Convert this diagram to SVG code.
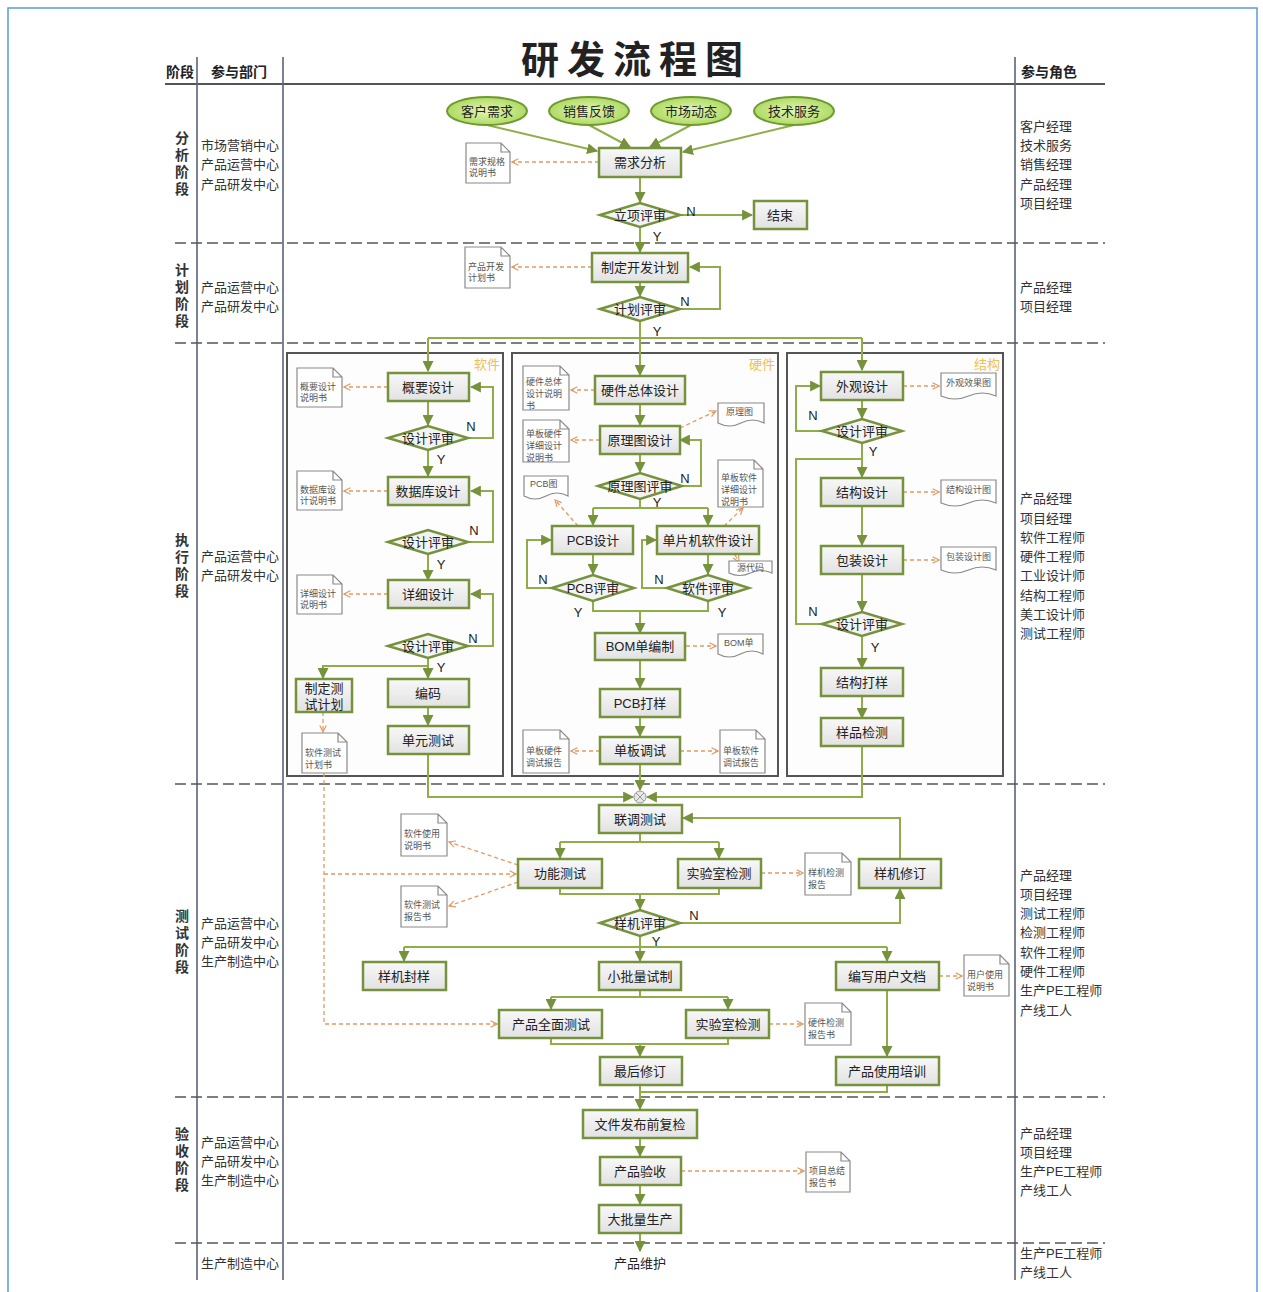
<svg xmlns="http://www.w3.org/2000/svg" width="1263" height="1292" viewBox="0 0 1263 1292">
<defs>
<linearGradient id="gBox" x1="0" y1="0" x2="0" y2="1"><stop offset="0" stop-color="#f8f8f8"/><stop offset="1" stop-color="#e2e2e2"/></linearGradient>
<radialGradient id="gEll" cx="0.5" cy="0.5" r="0.6"><stop offset="0" stop-color="#e4f6b4"/><stop offset="1" stop-color="#a5d556"/></radialGradient>
<marker id="ag" viewBox="0 0 10 10" refX="9" refY="5" markerWidth="11" markerHeight="11" markerUnits="userSpaceOnUse" orient="auto"><path d="M0,0 L10,5 L0,10 z" fill="#76923c"/></marker>
<marker id="ao" viewBox="0 0 10 10" refX="9" refY="5" markerWidth="8" markerHeight="8" markerUnits="userSpaceOnUse" orient="auto"><path d="M1,1 L9,5 L1,9" fill="none" stroke="#e29a62" stroke-width="1.5"/></marker>
<style>
text{font-family:"Liberation Sans","Noto Sans CJK SC",sans-serif;}
.box{fill:url(#gBox);stroke:#76923c;stroke-width:2.5}
.dia{fill:#f3f3f3;stroke:#76923c;stroke-width:2.5}
.ell{fill:url(#gEll);stroke:#6e9a2e;stroke-width:2}
.doc{fill:#fff;stroke:#8a8a8a;stroke-width:1.2}
.frame{fill:#fdfdfd;stroke:#555;stroke-width:2}
.c{fill:none;stroke:#8fad4a;stroke-width:2}
.ca{fill:none;stroke:#8fad4a;stroke-width:2;marker-end:url(#ag)}
.d{fill:none;stroke:#e29a62;stroke-width:1.3;stroke-dasharray:4 3;marker-end:url(#ao)}
.dn{fill:none;stroke:#e29a62;stroke-width:1.3;stroke-dasharray:4 3}
.sep{stroke:#555;stroke-width:1.6;stroke-dasharray:11 5}
.vl{stroke:#5a6478;stroke-width:1.6}
.t{font-size:13px;fill:#222;text-anchor:middle;dominant-baseline:central}
.ts{font-size:9px;fill:#555}
.yn{font-size:13px;fill:#222;text-anchor:middle;dominant-baseline:central}
.dep{font-size:13px;fill:#333}
.stg{font-size:14px;font-weight:bold;fill:#333;text-anchor:middle}
.hd{font-size:14px;font-weight:bold;fill:#222}
.fl{font-size:13px;fill:#f0c050;text-anchor:end}
</style>
</defs>
<rect x="0" y="0" width="1263" height="1292" fill="#fff"/>
<rect x="8" y="8" width="1249" height="1300" fill="none" stroke="#5b9bd5" stroke-width="1.5"/>

<g id="layout">
<text x="636" y="73" font-size="38" font-weight="bold" fill="#222" text-anchor="middle" letter-spacing="8">研发流程图</text>
<text class="hd" x="166" y="77">阶段</text>
<text class="hd" x="211" y="77">参与部门</text>
<text class="hd" x="1021" y="77">参与角色</text>
<line x1="165" y1="84" x2="1105" y2="84" stroke="#555" stroke-width="2"/>
<line class="vl" x1="197" y1="57" x2="197" y2="1280"/>
<line class="vl" x1="283" y1="57" x2="283" y2="1280"/>
<line class="vl" x1="1015" y1="57" x2="1015" y2="1280"/>
<line class="sep" x1="175" y1="243" x2="1105" y2="243"/>
<line class="sep" x1="175" y1="343" x2="1105" y2="343"/>
<line class="sep" x1="175" y1="784" x2="1105" y2="784"/>
<line class="sep" x1="175" y1="1097" x2="1105" y2="1097"/>
<line class="sep" x1="175" y1="1243" x2="1105" y2="1243"/>

<text class="stg" x="182" y="143"><tspan x="182">分</tspan><tspan x="182" dy="17">析</tspan><tspan x="182" dy="17">阶</tspan><tspan x="182" dy="17">段</tspan></text>
<text class="stg" x="182" y="275"><tspan x="182">计</tspan><tspan x="182" dy="17">划</tspan><tspan x="182" dy="17">阶</tspan><tspan x="182" dy="17">段</tspan></text>
<text class="stg" x="182" y="545"><tspan x="182">执</tspan><tspan x="182" dy="17">行</tspan><tspan x="182" dy="17">阶</tspan><tspan x="182" dy="17">段</tspan></text>
<text class="stg" x="182" y="921"><tspan x="182">测</tspan><tspan x="182" dy="17">试</tspan><tspan x="182" dy="17">阶</tspan><tspan x="182" dy="17">段</tspan></text>
<text class="stg" x="182" y="1139"><tspan x="182">验</tspan><tspan x="182" dy="17">收</tspan><tspan x="182" dy="17">阶</tspan><tspan x="182" dy="17">段</tspan></text>

<text class="dep" x="201" y="150">市场营销中心</text>
<text class="dep" x="201" y="169">产品运营中心</text>
<text class="dep" x="201" y="189">产品研发中心</text>
<text class="dep" x="201" y="292">产品运营中心</text>
<text class="dep" x="201" y="311">产品研发中心</text>
<text class="dep" x="201" y="561">产品运营中心</text>
<text class="dep" x="201" y="580">产品研发中心</text>
<text class="dep" x="201" y="928">产品运营中心</text>
<text class="dep" x="201" y="947">产品研发中心</text>
<text class="dep" x="201" y="966">生产制造中心</text>
<text class="dep" x="201" y="1147">产品运营中心</text>
<text class="dep" x="201" y="1166">产品研发中心</text>
<text class="dep" x="201" y="1185">生产制造中心</text>
<text class="dep" x="201" y="1268">生产制造中心</text>

<text class="dep" x="1020" y="131">客户经理</text>
<text class="dep" x="1020" y="150">技术服务</text>
<text class="dep" x="1020" y="169">销售经理</text>
<text class="dep" x="1020" y="189">产品经理</text>
<text class="dep" x="1020" y="208">项目经理</text>
<text class="dep" x="1020" y="292">产品经理</text>
<text class="dep" x="1020" y="311">项目经理</text>
<text class="dep" x="1020" y="503">产品经理</text>
<text class="dep" x="1020" y="523">项目经理</text>
<text class="dep" x="1020" y="542">软件工程师</text>
<text class="dep" x="1020" y="561">硬件工程师</text>
<text class="dep" x="1020" y="580">工业设计师</text>
<text class="dep" x="1020" y="600">结构工程师</text>
<text class="dep" x="1020" y="619">美工设计师</text>
<text class="dep" x="1020" y="638">测试工程师</text>
<text class="dep" x="1020" y="880">产品经理</text>
<text class="dep" x="1020" y="899">项目经理</text>
<text class="dep" x="1020" y="918">测试工程师</text>
<text class="dep" x="1020" y="937">检测工程师</text>
<text class="dep" x="1020" y="957">软件工程师</text>
<text class="dep" x="1020" y="976">硬件工程师</text>
<text class="dep" x="1020" y="995">生产PE工程师</text>
<text class="dep" x="1020" y="1015">产线工人</text>
<text class="dep" x="1020" y="1138">产品经理</text>
<text class="dep" x="1020" y="1157">项目经理</text>
<text class="dep" x="1020" y="1176">生产PE工程师</text>
<text class="dep" x="1020" y="1195">产线工人</text>
<text class="dep" x="1020" y="1258">生产PE工程师</text>
<text class="dep" x="1020" y="1277">产线工人</text>
</g>

<g id="frames">
<rect class="frame" x="287" y="353" width="216" height="423"/>
<text class="fl" x="500" y="369">软件</text>
<rect class="frame" x="512" y="353" width="266" height="423"/>
<text class="fl" x="775" y="369">硬件</text>
<rect class="frame" x="787" y="353" width="216" height="423"/>
<text class="fl" x="1000" y="369">结构</text>
</g>

<g id="connectors">
<path class="ca" d="M487,125 L597,151"/>
<path class="ca" d="M589,125 L630,147"/>
<path class="ca" d="M691,125 L650,147"/>
<path class="ca" d="M794,125 L683,152"/>
<path class="ca" d="M640,177 V202"/>
<path class="ca" d="M680,215 H752"/>
<path class="ca" d="M640,227 V252"/>
<path class="ca" d="M640,282 V296"/>
<path class="ca" d="M680,309 H720 V267 H690"/>
<path class="c" d="M428,338 H862"/>
<path class="ca" d="M640,321 V375"/>
<path class="ca" d="M428,338 V371"/>
<path class="ca" d="M862,338 V370"/>
<!-- software -->
<path class="ca" d="M428,401 V425"/>
<path class="ca" d="M468,438 H493 V387 H471"/>
<path class="ca" d="M428,450 V476"/>
<path class="ca" d="M468,542 H493 V491 H471"/>
<path class="ca" d="M428,554 V580"/>
<path class="ca" d="M468,646 H493 V594 H471"/>
<path class="ca" d="M428,658 V678"/>
<path class="ca" d="M428,666 H323 V678"/>
<path class="ca" d="M428,707 V725"/>
<path class="ca" d="M428,754 V797 H633"/>
<!-- hardware -->
<path class="ca" d="M640,404 V425"/>
<path class="ca" d="M640,454 V472"/>
<path class="ca" d="M682,486 H701 V440 H680"/>
<path class="c" d="M640,499 V508 M593,508 H708"/>
<path class="ca" d="M593,508 V525"/>
<path class="ca" d="M708,508 V525"/>
<path class="ca" d="M593,554 V574"/>
<path class="ca" d="M708,554 V574"/>
<path class="ca" d="M552,588 H527 V540 H551"/>
<path class="ca" d="M667,588 H642 V540 H656"/>
<path class="c" d="M593,601 V611 H708 V601"/>
<path class="ca" d="M640,611 V633"/>
<path class="ca" d="M640,660 V688"/>
<path class="ca" d="M640,717 V736"/>
<path class="ca" d="M640,764 V790"/>
<!-- structure -->
<path class="ca" d="M862,400 V418"/>
<path class="ca" d="M822,431 H796 V386 H820"/>
<path class="ca" d="M862,443 V477"/>
<path class="c" d="M822,624 H796 V459 H862"/>
<path class="ca" d="M862,506 V545"/>
<path class="ca" d="M862,574 V611"/>
<path class="ca" d="M862,636 V668"/>
<path class="ca" d="M862,696 V718"/>
<path class="ca" d="M862,746 V797 H647"/>
<!-- test -->
<path class="c" d="M640,833 V842 M560,842 H719"/>
<path class="ca" d="M560,842 V858"/>
<path class="ca" d="M719,842 V858"/>
<path class="c" d="M560,888 V894 H719 V888"/>
<path class="ca" d="M640,894 V909"/>
<path class="ca" d="M680,923 H900 V889"/>
<path class="ca" d="M900,859 V818 H683"/>
<path class="c" d="M640,936 V947 M404,947 H887"/>
<path class="ca" d="M404,947 V961"/>
<path class="ca" d="M640,947 V961"/>
<path class="ca" d="M887,947 V961"/>
<path class="c" d="M640,990 V997 M551,997 H728"/>
<path class="ca" d="M551,997 V1009"/>
<path class="ca" d="M728,997 V1009"/>
<path class="c" d="M551,1038 V1044 H728 V1038"/>
<path class="ca" d="M640,1044 V1056"/>
<path class="ca" d="M887,990 V1056"/>
<path class="c" d="M887,1085 V1092 H640"/>
<path class="ca" d="M640,1085 V1109"/>
<path class="ca" d="M640,1138 V1156"/>
<path class="ca" d="M640,1185 V1204"/>
<path class="ca" d="M640,1233 V1251"/>
<!-- dashed document links -->
<path class="d" d="M599,162 H512"/>
<path class="d" d="M592,267 H512"/>
<path class="d" d="M388,387 H344"/>
<path class="d" d="M388,491 H344"/>
<path class="d" d="M388,594 H344"/>
<path class="d" d="M323,712 V732"/>
<path class="d" d="M595,390 H571"/>
<path class="d" d="M600,440 H571"/>
<path class="d" d="M680,428 L716,411"/>
<path class="d" d="M578,526 L555,500"/>
<path class="d" d="M724,526 L743,508"/>
<path class="d" d="M735,555 L739,562"/>
<path class="d" d="M686,646 H716"/>
<path class="d" d="M600,751 H571"/>
<path class="d" d="M680,751 H718"/>
<path class="d" d="M903,386 H939"/>
<path class="d" d="M903,492 H939"/>
<path class="d" d="M903,560 H939"/>
<path class="d" d="M324,773 V1024 H497"/>
<path class="d" d="M324,874 H516"/>
<path class="d" d="M518,865 L449,842"/>
<path class="d" d="M518,882 L449,906"/>
<path class="d" d="M761,873 H803"/>
<path class="d" d="M939,976 H962"/>
<path class="d" d="M769,1024 H803"/>
<path class="d" d="M681,1171 H804"/>
</g>

<g id="merge">
<circle cx="640" cy="797" r="6" fill="#e6e6e6" stroke="#999" stroke-width="1"/>
<path d="M636,793 L644,801 M644,793 L636,801" stroke="#999" stroke-width="1"/>
</g>

<g id="n-sources">
<g id="e1"><ellipse class="ell" cx="487" cy="111" rx="40" ry="14"/><text class="t" x="487" y="111">客户需求</text></g>
<g id="e2"><ellipse class="ell" cx="589" cy="111" rx="40" ry="14"/><text class="t" x="589" y="111">销售反馈</text></g>
<g id="e3"><ellipse class="ell" cx="691" cy="111" rx="40" ry="14"/><text class="t" x="691" y="111">市场动态</text></g>
<g id="e4"><ellipse class="ell" cx="794" cy="111" rx="40" ry="14"/><text class="t" x="794" y="111">技术服务</text></g>
</g>

<g id="n-analysis">
<g id="b-xqfx"><rect class="box" x="599" y="148" width="82" height="29"/><text class="t" x="640" y="162">需求分析</text></g>
<g id="d-lxps"><polygon class="dia" points="600,215 640,203 680,215 640,227"/><text class="t" x="640" y="215">立项评审</text></g>
<g id="b-end"><rect class="box" x="754" y="201" width="53" height="28"/><text class="t" x="780" y="215">结束</text></g>
<g id="b-plan"><rect class="box" x="592" y="253" width="96" height="29"/><text class="t" x="640" y="267">制定开发计划</text></g>
<g id="d-plan"><polygon class="dia" points="600,309 640,297 680,309 640,321"/><text class="t" x="640" y="309">计划评审</text></g>
</g>

<g id="n-software">
<g id="b-gy"><rect class="box" x="388" y="373" width="81" height="28"/><text class="t" x="428" y="387">概要设计</text></g>
<g id="d-s1"><polygon class="dia" points="388,438 428,426 468,438 428,450"/><text class="t" x="428" y="438">设计评审</text></g>
<g id="b-db"><rect class="box" x="388" y="477" width="81" height="28"/><text class="t" x="428" y="491">数据库设计</text></g>
<g id="d-s2"><polygon class="dia" points="388,542 428,530 468,542 428,554"/><text class="t" x="428" y="542">设计评审</text></g>
<g id="b-xx"><rect class="box" x="388" y="580" width="81" height="28"/><text class="t" x="428" y="594">详细设计</text></g>
<g id="d-s3"><polygon class="dia" points="388,646 428,634 468,646 428,658"/><text class="t" x="428" y="646">设计评审</text></g>
<g id="b-csjh"><rect class="box" x="296" y="679" width="56" height="33"/><text class="t" x="324" y="688">制定测</text><text class="t" x="324" y="704">试计划</text></g>
<g id="b-bm"><rect class="box" x="388" y="679" width="81" height="28"/><text class="t" x="428" y="693">编码</text></g>
<g id="b-dycs"><rect class="box" x="388" y="726" width="81" height="28"/><text class="t" x="428" y="740">单元测试</text></g>
</g>

<g id="n-hardware">
<g id="b-hw"><rect class="box" x="595" y="376" width="90" height="28"/><text class="t" x="640" y="390">硬件总体设计</text></g>
<g id="b-yl"><rect class="box" x="600" y="426" width="80" height="28"/><text class="t" x="640" y="440">原理图设计</text></g>
<g id="d-yl"><polygon class="dia" points="598,486 640,473 682,486 640,499"/><text class="t" x="640" y="486">原理图评审</text></g>
<g id="b-pcb"><rect class="box" x="552" y="526" width="81" height="28"/><text class="t" x="593" y="540">PCB设计</text></g>
<g id="b-mcu"><rect class="box" x="657" y="526" width="102" height="28"/><text class="t" x="708" y="540">单片机软件设计</text></g>
<g id="d-pcb"><polygon class="dia" points="552,588 593,575 634,588 593,601"/><text class="t" x="593" y="588">PCB评审</text></g>
<g id="d-rj"><polygon class="dia" points="667,588 708,575 749,588 708,601"/><text class="t" x="708" y="588">软件评审</text></g>
<g id="b-bom"><rect class="box" x="595" y="633" width="90" height="27"/><text class="t" x="640" y="646">BOM单编制</text></g>
<g id="b-pcbdy"><rect class="box" x="600" y="689" width="80" height="28"/><text class="t" x="640" y="703">PCB打样</text></g>
<g id="b-dbts"><rect class="box" x="600" y="737" width="80" height="27"/><text class="t" x="640" y="750">单板调试</text></g>
</g>

<g id="n-structure">
<g id="b-wg"><rect class="box" x="821" y="372" width="82" height="28"/><text class="t" x="862" y="386">外观设计</text></g>
<g id="d-t1"><polygon class="dia" points="822,431 862,419 902,431 862,443"/><text class="t" x="862" y="431">设计评审</text></g>
<g id="b-jg"><rect class="box" x="821" y="478" width="82" height="28"/><text class="t" x="862" y="492">结构设计</text></g>
<g id="b-bz"><rect class="box" x="821" y="546" width="82" height="28"/><text class="t" x="862" y="560">包装设计</text></g>
<g id="d-t2"><polygon class="dia" points="822,624 862,612 902,624 862,636"/><text class="t" x="862" y="624">设计评审</text></g>
<g id="b-jgdy"><rect class="box" x="821" y="668" width="82" height="28"/><text class="t" x="862" y="682">结构打样</text></g>
<g id="b-ypjc"><rect class="box" x="821" y="718" width="82" height="28"/><text class="t" x="862" y="732">样品检测</text></g>
</g>

<g id="n-test">
<g id="b-ltcs"><rect class="box" x="599" y="805" width="83" height="28"/><text class="t" x="640" y="819">联调测试</text></g>
<g id="b-gncs"><rect class="box" x="518" y="859" width="84" height="29"/><text class="t" x="560" y="873">功能测试</text></g>
<g id="b-sys1"><rect class="box" x="678" y="859" width="83" height="29"/><text class="t" x="719" y="873">实验室检测</text></g>
<g id="b-yjxd"><rect class="box" x="859" y="859" width="82" height="29"/><text class="t" x="900" y="873">样机修订</text></g>
<g id="d-yj"><polygon class="dia" points="600,923 640,910 680,923 640,936"/><text class="t" x="640" y="923">样机评审</text></g>
<g id="b-yjfy"><rect class="box" x="363" y="962" width="83" height="28"/><text class="t" x="404" y="976">样机封样</text></g>
<g id="b-xpl"><rect class="box" x="599" y="962" width="82" height="28"/><text class="t" x="640" y="976">小批量试制</text></g>
<g id="b-bxwd"><rect class="box" x="836" y="962" width="103" height="28"/><text class="t" x="887" y="976">编写用户文档</text></g>
<g id="b-cpqm"><rect class="box" x="499" y="1010" width="103" height="28"/><text class="t" x="551" y="1024">产品全面测试</text></g>
<g id="b-sys2"><rect class="box" x="686" y="1010" width="83" height="28"/><text class="t" x="728" y="1024">实验室检测</text></g>
<g id="b-zhxd"><rect class="box" x="600" y="1057" width="82" height="28"/><text class="t" x="640" y="1071">最后修订</text></g>
<g id="b-sypx"><rect class="box" x="836" y="1057" width="103" height="28"/><text class="t" x="887" y="1071">产品使用培训</text></g>
</g>

<g id="n-accept">
<g id="b-wjfb"><rect class="box" x="583" y="1110" width="114" height="28"/><text class="t" x="640" y="1124">文件发布前复检</text></g>
<g id="b-cpys"><rect class="box" x="600" y="1157" width="81" height="28"/><text class="t" x="640" y="1171">产品验收</text></g>
<g id="b-dpl"><rect class="box" x="599" y="1205" width="82" height="28"/><text class="t" x="640" y="1219">大批量生产</text></g>
<g id="t-wh"><text class="t" x="640" y="1263">产品维护</text></g>
</g>

<g id="yn-labels">
<text class="yn" x="691" y="211">N</text><text class="yn" x="657" y="236">Y</text>
<text class="yn" x="685" y="301">N</text><text class="yn" x="657" y="331">Y</text>
<text class="yn" x="471" y="426">N</text><text class="yn" x="441" y="459">Y</text>
<text class="yn" x="474" y="530">N</text><text class="yn" x="441" y="564">Y</text>
<text class="yn" x="473" y="638">N</text><text class="yn" x="441" y="667">Y</text>
<text class="yn" x="685" y="478">N</text><text class="yn" x="657" y="502">Y</text>
<text class="yn" x="543" y="579">N</text><text class="yn" x="578" y="612">Y</text>
<text class="yn" x="659" y="579">N</text><text class="yn" x="722" y="612">Y</text>
<text class="yn" x="813" y="415">N</text><text class="yn" x="873" y="451">Y</text>
<text class="yn" x="813" y="611">N</text><text class="yn" x="875" y="647">Y</text>
<text class="yn" x="694" y="915">N</text><text class="yn" x="656" y="941">Y</text>
</g>

<g id="documents">
<g id="doc1"><path class="doc" d="M466,143 h35 l9,9 v31 h-44 z M501,143 v9 h9"/><text class="ts" x="469" y="165">需求规格</text><text class="ts" x="469" y="176">说明书</text></g>
<g id="doc2"><path class="doc" d="M465,247 h36 l9,9 v32 h-45 z M501,247 v9 h9"/><text class="ts" x="468" y="270">产品开发</text><text class="ts" x="468" y="281">计划书</text></g>
<g id="doc3"><path class="doc" d="M297,368 h36 l9,9 v30 h-45 z M333,368 v9 h9"/><text class="ts" x="300" y="390">概要设计</text><text class="ts" x="300" y="401">说明书</text></g>
<g id="doc4"><path class="doc" d="M297,471 h36 l9,9 v30 h-45 z M333,471 v9 h9"/><text class="ts" x="300" y="493">数据库设</text><text class="ts" x="300" y="504">计说明书</text></g>
<g id="doc5"><path class="doc" d="M297,575 h36 l9,9 v30 h-45 z M333,575 v9 h9"/><text class="ts" x="300" y="597">详细设计</text><text class="ts" x="300" y="608">说明书</text></g>
<g id="doc6"><path class="doc" d="M302,733 h36 l9,9 v31 h-45 z M338,733 v9 h9"/><text class="ts" x="305" y="756">软件测试</text><text class="ts" x="305" y="768">计划书</text></g>
<g id="doc7"><path class="doc" d="M523,366 h37 l9,9 v35 h-46 z M560,366 v9 h9"/><text class="ts" x="526" y="385">硬件总体</text><text class="ts" x="526" y="397">设计说明</text><text class="ts" x="526" y="409">书</text></g>
<g id="doc8"><path class="doc" d="M523,420 h37 l9,9 v33 h-46 z M560,420 v9 h9"/><text class="ts" x="526" y="437">单板硬件</text><text class="ts" x="526" y="449">详细设计</text><text class="ts" x="526" y="461">说明书</text></g>
<g id="doc9"><path class="doc" d="M718,403 h46 v20 q-11.5,-6 -23,0 t-23,0 z"/><text class="ts" x="726" y="415">原理图</text></g>
<g id="doc10"><path class="doc" d="M524,476 h44 v20 q-11,-6 -22,0 t-22,0 z"/><text class="ts" x="530" y="487">PCB图</text></g>
<g id="doc11"><path class="doc" d="M718,460 h36 l9,9 v38 h-45 z M754,460 v9 h9"/><text class="ts" x="721" y="481">单板软件</text><text class="ts" x="721" y="493">详细设计</text><text class="ts" x="721" y="505">说明书</text></g>
<g id="doc12"><path class="doc" d="M729,561 h43 v12 q-10.75,-5 -21.5,0 t-21.5,0 z"/><text class="ts" x="737" y="571">源代码</text></g>
<g id="doc13"><path class="doc" d="M718,634 h45 v20 q-11.25,-6 -22.5,0 t-22.5,0 z"/><text class="ts" x="724" y="646">BOM单</text></g>
<g id="doc14"><path class="doc" d="M523,730 h37 l9,9 v34 h-46 z M560,730 v9 h9"/><text class="ts" x="526" y="754">单板硬件</text><text class="ts" x="526" y="766">调试报告</text></g>
<g id="doc15"><path class="doc" d="M720,730 h36 l9,9 v34 h-45 z M756,730 v9 h9"/><text class="ts" x="723" y="754">单板软件</text><text class="ts" x="723" y="766">调试报告</text></g>
<g id="doc16"><path class="doc" d="M941,373 h55 v23 q-13.75,-6 -27.5,0 t-27.5,0 z"/><text class="ts" x="946" y="386">外观效果图</text></g>
<g id="doc17"><path class="doc" d="M941,480 h55 v23 q-13.75,-6 -27.5,0 t-27.5,0 z"/><text class="ts" x="946" y="493">结构设计图</text></g>
<g id="doc18"><path class="doc" d="M941,547 h55 v23 q-13.75,-6 -27.5,0 t-27.5,0 z"/><text class="ts" x="946" y="560">包装设计图</text></g>
<g id="doc19"><path class="doc" d="M401,814 h37 l9,9 v33 h-46 z M438,814 v9 h9"/><text class="ts" x="404" y="837">软件使用</text><text class="ts" x="404" y="849">说明书</text></g>
<g id="doc20"><path class="doc" d="M401,886 h37 l9,9 v32 h-46 z M438,886 v9 h9"/><text class="ts" x="404" y="908">软件测试</text><text class="ts" x="404" y="920">报告书</text></g>
<g id="doc21"><path class="doc" d="M805,853 h37 l9,9 v33 h-46 z M842,853 v9 h9"/><text class="ts" x="808" y="876">样机检测</text><text class="ts" x="808" y="888">报告</text></g>
<g id="doc22"><path class="doc" d="M964,955 h36 l9,9 v32 h-45 z M1000,955 v9 h9"/><text class="ts" x="967" y="978">用户使用</text><text class="ts" x="967" y="990">说明书</text></g>
<g id="doc23"><path class="doc" d="M805,1003 h37 l9,9 v33 h-46 z M842,1003 v9 h9"/><text class="ts" x="808" y="1026">硬件检测</text><text class="ts" x="808" y="1038">报告书</text></g>
<g id="doc24"><path class="doc" d="M806,1152 h35 l9,9 v31 h-44 z M841,1152 v9 h9"/><text class="ts" x="809" y="1174">项目总结</text><text class="ts" x="809" y="1186">报告书</text></g>
</g>
</svg>
